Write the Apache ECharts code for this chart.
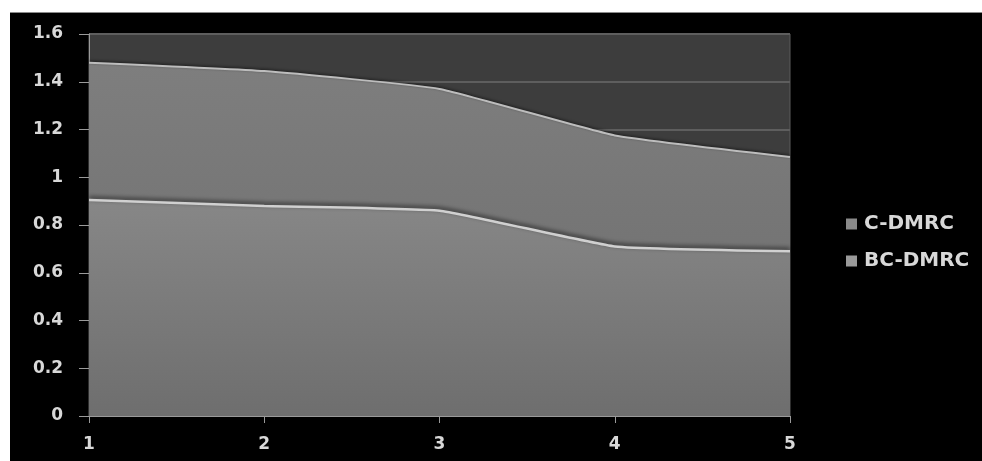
<!DOCTYPE html>
<html>
<head>
<meta charset="utf-8">
<script src="https://cdn.jsdelivr.net/npm/echarts@6/dist/echarts.min.js"></script>
<style>
  html, body { margin: 0; padding: 0; background: #ffffff; width: 982px; height: 461px; overflow: hidden; }
  #chart { position: absolute; left: 10px; top: 12px; width: 972px; height: 449px; background: #000; border-top: 1px solid #8a8a8a; box-sizing: border-box; }
</style>
</head>
<body>
<div id="chart"></div>
<script>
// x positions along the horizontal axis
const categories = ['1', '2', '3', '4', '5'];
// series values
const cDmrc = [1.48, 1.445, 1.37, 1.175, 1.085];
const bcDmrc = [0.905, 0.88, 0.86, 0.71, 0.69];
const seriesNames = ['C-DMRC', 'BC-DMRC'];

const chart = echarts.init(document.getElementById('chart'));

function areaFill(top, bottom) {
  return new echarts.graphic.LinearGradient(0, 0, 0, 1, [
    { offset: 0, color: top },
    { offset: 1, color: bottom }
  ]);
}

const labelFont = { color: '#d8d8d8', fontFamily: 'DejaVu Sans', fontSize: 17, fontWeight: 'bold' };

chart.setOption({
  backgroundColor: '#000',
  animation: false,
  grid: { left: 79, right: 192, top: 21, bottom: 45, show: true, backgroundColor: '#3d3d3d', borderColor: '#5c5c5c', borderWidth: 1 },
  legend: {
    orient: 'vertical',
    left: 831,
    top: 196,
    itemWidth: 11,
    itemHeight: 11,
    itemGap: 17,
    icon: 'rect',
    textStyle: { color: '#d8d8d8', fontFamily: 'DejaVu Sans', fontSize: 20, fontWeight: 'bold', padding: [0, 0, 0, 2] },
    data: seriesNames
  },
  xAxis: {
    type: 'category',
    data: categories,
    boundaryGap: false,
    axisLine: { lineStyle: { color: '#9a9a9a', width: 1 } },
    axisTick: { show: true, length: 7, lineStyle: { color: '#9a9a9a' } },
    axisLabel: Object.assign({ margin: 20 }, labelFont),
    splitLine: { show: false }
  },
  yAxis: {
    type: 'value',
    min: 0,
    max: 1.6,
    interval: 0.2,
    axisLine: { show: true, lineStyle: { color: '#9a9a9a', width: 1 } },
    axisTick: { show: true, length: 10, lineStyle: { color: '#9a9a9a' } },
    axisLabel: Object.assign({ margin: 26 }, labelFont),
    splitLine: { show: true, lineStyle: { color: '#5e5e5e', width: 2 } }
  },
  series: [
    {
      name: seriesNames[0],
      type: 'line',
      data: cDmrc,
      symbol: 'none',
      smooth: 0.12,
      itemStyle: { color: '#8a8a8a' },
      lineStyle: { color: '#bdbdbd', width: 2, shadowColor: 'rgba(0,0,0,0.6)', shadowBlur: 3, shadowOffsetY: -1 },
      areaStyle: { color: areaFill('#7e7e7e', '#6c6c6c'), opacity: 1 },
      z: 2
    },
    {
      name: seriesNames[1],
      type: 'line',
      data: bcDmrc,
      symbol: 'none',
      smooth: 0.12,
      itemStyle: { color: '#9a9a9a' },
      lineStyle: { color: '#d0d0d0', width: 2.5, shadowColor: 'rgba(0,0,0,0.7)', shadowBlur: 4, shadowOffsetY: -2 },
      areaStyle: { color: areaFill('#878787', '#6e6e6e'), opacity: 1 },
      z: 3
    }
  ]
});
</script>
</body>
</html>
